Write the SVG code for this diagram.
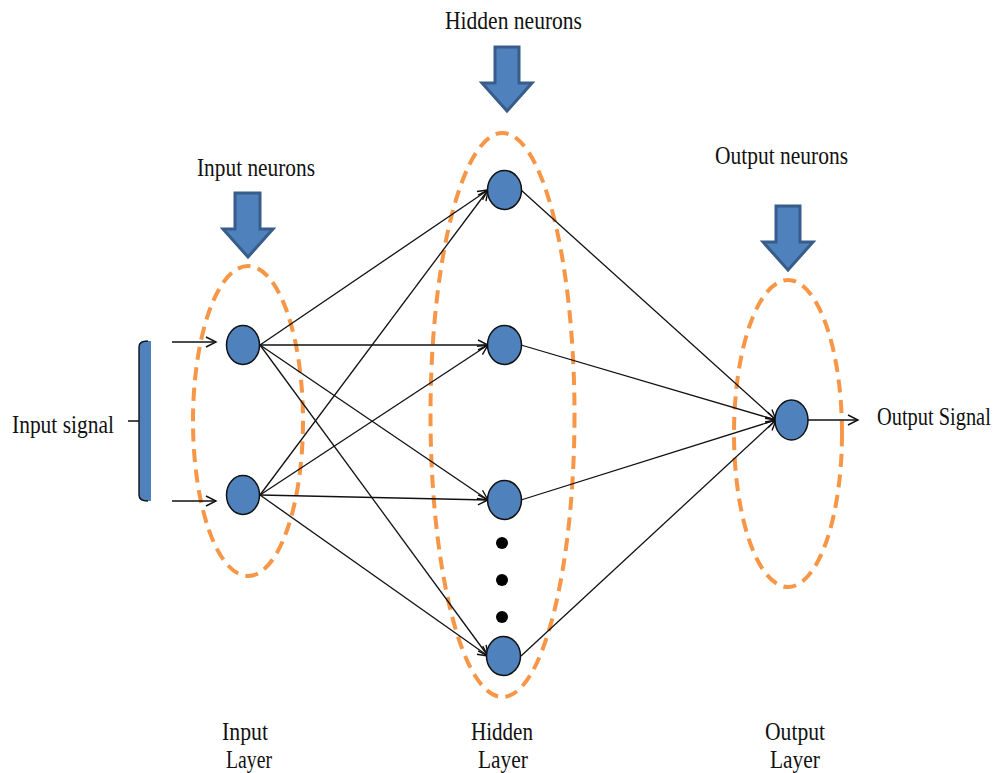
<svg xmlns="http://www.w3.org/2000/svg" width="1002" height="773" viewBox="0 0 1002 773">
<style>
.t{font-family:"Liberation Serif","Times New Roman",serif;font-size:25.5px;fill:#111;}
.neu{fill:#4F81BD;stroke:#111;stroke-width:1.5;}
.grp{fill:none;stroke:#F79646;stroke-width:4;stroke-dasharray:13 7.5;}
.blk{fill:#4F81BD;stroke:#385D8A;stroke-width:3;stroke-linejoin:miter;}
.ln{fill:none;stroke:#111;stroke-width:1.3;marker-end:url(#ah);}
.dot{fill:#000;}
</style>
<defs>
<marker id="ah" markerUnits="userSpaceOnUse" markerWidth="14" markerHeight="14" refX="11" refY="6" orient="auto" viewBox="0 0 14 12">
<path d="M1,1 L11,6 L1,11" fill="none" stroke="#111" stroke-width="1.4"/>
</marker>
</defs>
<rect width="1002" height="773" fill="#fff"/>

<g id="groups">
<ellipse class="grp" cx="248" cy="421" rx="55" ry="155"/>
<ellipse class="grp" cx="502.5" cy="415" rx="72" ry="282"/>
<ellipse class="grp" cx="788" cy="433.5" rx="54" ry="153.5"/>
</g>

<g id="connectors">
<line class="ln" x1="172" y1="342" x2="216" y2="342"/>
<line class="ln" x1="172" y1="501" x2="216" y2="501"/>
<line class="ln" x1="260" y1="345" x2="488" y2="190"/>
<line class="ln" x1="260" y1="345" x2="488" y2="345"/>
<line class="ln" x1="260" y1="345" x2="488" y2="500"/>
<line class="ln" x1="260" y1="345" x2="488" y2="656"/>
<line class="ln" x1="260" y1="495" x2="488" y2="190"/>
<line class="ln" x1="260" y1="495" x2="488" y2="345"/>
<line class="ln" x1="260" y1="495" x2="488" y2="500"/>
<line class="ln" x1="260" y1="495" x2="488" y2="656"/>
<line class="ln" x1="521" y1="190" x2="776" y2="420"/>
<line class="ln" x1="521" y1="345" x2="776" y2="420"/>
<line class="ln" x1="521" y1="500" x2="776" y2="420"/>
<line class="ln" x1="521" y1="656" x2="776" y2="420"/>
<line class="ln" x1="808" y1="420" x2="858" y2="420"/>
</g>

<g id="input-signal">
<path d="M151,341 L144,341 Q139,341 139,346 L139,496 Q139,501 144,501 L151,501 Z" fill="#4F81BD"/>
<path d="M148,341 Q139,341 139,347 L139,495 Q139,501 148,501 M128,421 L139,421" fill="none" stroke="#111" stroke-width="1.4"/>
<text class="t" x="12" y="433" textLength="102" lengthAdjust="spacingAndGlyphs">Input signal</text>
</g>

<g id="input-neurons-label">
<text class="t" x="197" y="176" textLength="118" lengthAdjust="spacingAndGlyphs">Input neurons</text>
<path class="blk" d="M235,193 L260,193 L260,229 L273,229 L248,257 L223,229 L235,229 Z"/>
</g>
<g id="hidden-neurons-label">
<text class="t" x="445" y="29" textLength="137" lengthAdjust="spacingAndGlyphs">Hidden neurons</text>
<path class="blk" d="M495,47 L519,47 L519,83 L532,83 L507,111 L482,83 L495,83 Z"/>
</g>
<g id="output-neurons-label">
<text class="t" x="715" y="164" textLength="133" lengthAdjust="spacingAndGlyphs">Output neurons</text>
<path class="blk" d="M776,206 L800,206 L800,242 L813,242 L788,270 L763,242 L776,242 Z"/>
</g>

<g id="input-1"><ellipse class="neu" cx="243" cy="345" rx="16.5" ry="19.5"/></g>
<g id="input-2"><ellipse class="neu" cx="243" cy="495" rx="16.5" ry="19.5"/></g>
<g id="hidden-1"><ellipse class="neu" cx="504.5" cy="190" rx="17" ry="19.5"/></g>
<g id="hidden-2"><ellipse class="neu" cx="504.5" cy="345" rx="17" ry="19.5"/></g>
<g id="hidden-3"><ellipse class="neu" cx="504.5" cy="500" rx="17" ry="19.5"/></g>
<g id="hidden-4"><ellipse class="neu" cx="503.5" cy="656" rx="17" ry="19.5"/></g>
<g id="ellipsis">
<circle class="dot" cx="502" cy="543" r="6"/>
<circle class="dot" cx="502" cy="580" r="6"/>
<circle class="dot" cx="502" cy="617" r="6"/>
</g>
<g id="output-1"><ellipse class="neu" cx="791.5" cy="420" rx="16.5" ry="20"/></g>

<g id="output-signal" transform="translate(877,425) scale(0.8,1)">
<text class="t" x="0" y="0">Output Signal</text>
</g>

<g id="layer-labels">
<text class="t" x="245" y="740" text-anchor="middle" textLength="46" lengthAdjust="spacingAndGlyphs">Input</text>
<text class="t" x="249" y="768" text-anchor="middle" textLength="46" lengthAdjust="spacingAndGlyphs">Layer</text>
<text class="t" x="502" y="740" text-anchor="middle" textLength="62" lengthAdjust="spacingAndGlyphs">Hidden</text>
<text class="t" x="503" y="768" text-anchor="middle" textLength="50" lengthAdjust="spacingAndGlyphs">Layer</text>
<text class="t" x="795" y="740" text-anchor="middle" textLength="60" lengthAdjust="spacingAndGlyphs">Output</text>
<text class="t" x="795" y="768" text-anchor="middle" textLength="50" lengthAdjust="spacingAndGlyphs">Layer</text>
</g>
</svg>
